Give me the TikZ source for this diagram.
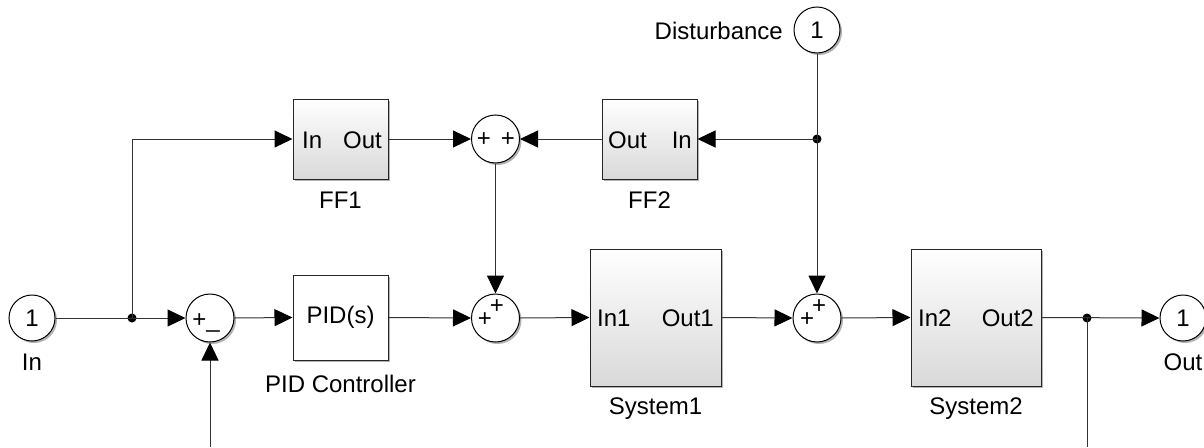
\documentclass[tikz,border=0pt]{standalone}
\usepackage{fontspec}
\setmainfont{Liberation Sans}
\usetikzlibrary{arrows.meta,shadows}
\begin{document}
\begin{tikzpicture}[x=1pt,y=-1pt,
  font=\fontsize{24}{28}\selectfont,
  wire/.style={draw=black!80, line width=1pt},
  sig/.style={wire, -{Triangle[length=18pt,width=17pt,color=black]}},
  shade/.style={drop shadow={shadow xshift=2pt,shadow yshift=-2pt,fill=black,opacity=0.3}},
  port/.style={circle, draw=black, line width=1pt, fill=white, minimum size=46pt, inner sep=0pt, shade},
  sumblk/.style={circle, draw=black, line width=1pt, fill=white, minimum size=48pt, inner sep=0pt, shade},
  subsys/.style={rectangle, draw=black!85, line width=1pt, top color=white, bottom color=black!15, inner sep=0pt, shade},
  plain/.style={rectangle, draw=black!85, line width=1pt, fill=white, inner sep=0pt, shade},
  sign/.style={inner sep=0pt},
  lbl/.style={inner sep=0pt},
  dot/.style={circle, fill=black, inner sep=0pt, minimum size=9pt}
]
\useasboundingbox (0,0) rectangle (1204,447);

% ports
\node[port] (in) at (32,318) {1};
\node[lbl] (inlbl) at (32,362) {In};
\node[port] (out) at (1183,318) {1};
\node[lbl] (outlbl) at (1183,362) {Out};
\node[port] (dist) at (817,30) {1};
\node[lbl, anchor=east] (distlbl) at (783,31) {Disturbance};

% sum blocks
\node[sumblk] (sum1) at (210,318) {};
\node[sign, anchor=base] (s1a) at (206,327) {+\_};
\node[sumblk] (sumff) at (495.5,139) {};
\node[sign] (sfa) at (484,140) {+};
\node[sign] (sfb) at (508,140) {+};
\node[sumblk] (sum2) at (495.5,318) {};
\node[sign] (s2a) at (485,320) {+};
\node[sign] (s2b) at (497,307) {+};
\node[sumblk] (sum3) at (817,318) {};
\node[sign] (s3a) at (807,320) {+};
\node[sign] (s3b) at (819,307) {+};

% feed-forward blocks
\node[subsys, minimum width=95pt, minimum height=80pt] (ff1) at (340.5,139) {};
\node[lbl, anchor=west] (ff1in) at (302,140) {In};
\node[lbl, anchor=east] (ff1out) at (382,140) {Out};
\node[lbl] (ff1lbl) at (340.5,200) {FF1};
\node[subsys, minimum width=95pt, minimum height=80pt] (ff2) at (649.5,139) {};
\node[lbl, anchor=west] (ff2out) at (608,140) {Out};
\node[lbl, anchor=east] (ff2in) at (692,140) {In};
\node[lbl] (ff2lbl) at (649.5,200) {FF2};

% controller
\node[plain, minimum width=95pt, minimum height=85pt] (pid) at (340.5,317.5) {PID(s)};
\node[lbl] (pidlbl) at (340.5,384) {PID Controller};

% plants
\node[subsys, minimum width=131pt, minimum height=137pt] (sys1) at (655.5,317.5) {};
\node[lbl, anchor=west] (sys1in) at (597,318) {In1};
\node[lbl, anchor=east] (sys1out) at (714,318) {Out1};
\node[lbl] (sys1lbl) at (655.5,409) {System1};
\node[subsys, minimum width=130pt, minimum height=137pt] (sys2) at (976,317.5) {};
\node[lbl, anchor=west] (sys2in) at (918,318) {In2};
\node[lbl, anchor=east] (sys2out) at (1034,318) {Out2};
\node[lbl] (sys2lbl) at (976,409) {System2};

% branch points and loose ends
\node[dot] (br1) at (132,318) {};
\node[dot] (br2) at (817,139) {};
\node[dot] (br3) at (1087,318) {};
\coordinate (fb1) at (210,447);
\coordinate (fb2) at (1087,447);

% signal lines
\draw[sig] (in.east) -- (sum1.west);
\draw[sig] (br1.center) |- (ff1.west);
\draw[sig] (sum1.east) -- (pid.west);
\draw[sig] (fb1) -- (sum1.south);
\draw[sig] (pid.east) -- (sum2.west);
\draw[sig] (ff1.east) -- (sumff.west);
\draw[sig] (ff2.west) -- (sumff.east);
\draw[sig] (sumff.south) -- (sum2.north);
\draw[sig] (dist.south) -- (sum3.north);
\draw[sig] (br2.center) -- (ff2.east);
\draw[sig] (sum2.east) -- (sys1.west);
\draw[sig] (sys1.east) -- (sum3.west);
\draw[sig] (sum3.east) -- (sys2.west);
\draw[sig] (sys2.east) -- (out.west);
\draw[wire] (br3.center) -- (fb2);
\end{tikzpicture}
\end{document}
